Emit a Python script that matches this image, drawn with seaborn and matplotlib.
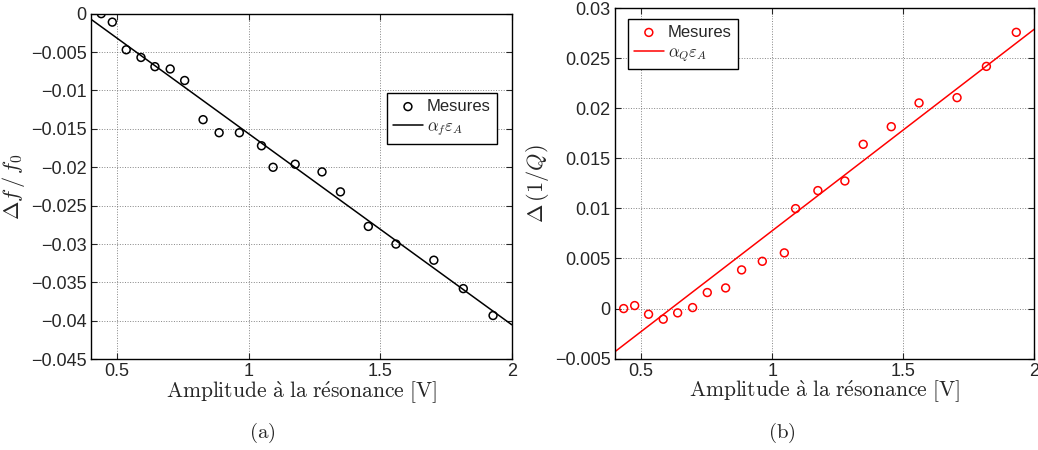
import matplotlib
matplotlib.use("Agg")
import matplotlib.pyplot as plt
from matplotlib.ticker import FuncFormatter, MultipleLocator
import pandas as pd
import seaborn as sns

amp_f = [0.44, 0.482, 0.535, 0.591, 0.644, 0.702, 0.757, 0.827, 0.888, 0.965,
         1.049, 1.093, 1.177, 1.279, 1.349, 1.455, 1.56, 1.704, 1.816, 1.929]
df_f0 = [0.0, -0.0011, -0.0047, -0.0057, -0.0069, -0.0072, -0.0087, -0.0138, -0.0155, -0.0155,
         -0.0172, -0.0200, -0.0196, -0.0206, -0.0232, -0.0277, -0.0300, -0.0321, -0.0358, -0.0393]
fit_f_x = [0.4, 2.0]
fit_f_y = [-0.0007, -0.0405]

amp_q = [0.433, 0.475, 0.528, 0.584, 0.639, 0.696, 0.752, 0.822, 0.883, 0.962,
         1.046, 1.089, 1.174, 1.277, 1.347, 1.454, 1.56, 1.705, 1.817, 1.931]
d_invq = [0.0, 0.0003, -0.00057, -0.00106, -0.00043, 0.0001, 0.0016, 0.00206, 0.00386, 0.00472,
          0.00556, 0.00998, 0.01178, 0.01274, 0.0164, 0.01816, 0.02053, 0.02106, 0.02418, 0.02758]
fit_q_x = [0.4, 2.0]
fit_q_y = [-0.0043, 0.0279]

sns.set_style("ticks")
plt.rcParams["font.family"] = ["Liberation Sans", "DejaVu Sans"]
plt.rcParams["mathtext.fontset"] = "cm"
plt.rcParams["xtick.direction"] = "in"
plt.rcParams["ytick.direction"] = "in"

fig = plt.figure(figsize=(10.38, 4.5), dpi=100)
ax1 = fig.add_axes([0.0874, 0.2016, 0.4056, 0.768])
ax2 = fig.add_axes([0.5925, 0.203, 0.404, 0.779])

fmt = FuncFormatter(lambda v, p: f"{round(v, 6) + 0.0:g}".replace("-", "\u2212"))
xlab = r"$\mathrm{Amplitude\ \grave{a}\ la\ r\acute{e}sonance\ [V]}$"


def draw(ax, xs, ys, fx, fy, color, fit_label, ylim, ylabel, legend_pos):
    sns.scatterplot(x=xs, y=ys, ax=ax, marker="o", s=32, facecolor="none",
                    edgecolor=color, linewidth=1.1, label="Mesures", zorder=3)
    sns.lineplot(x=fx, y=fy, ax=ax, color=color, linewidth=1.1, label=fit_label)
    ax.set_xlim(0.4, 2)
    ax.set_ylim(*ylim)
    ax.xaxis.set_major_locator(MultipleLocator(0.5))
    ax.yaxis.set_major_locator(MultipleLocator(0.005))
    ax.xaxis.set_major_formatter(fmt)
    ax.yaxis.set_major_formatter(fmt)
    ax.tick_params(labelsize=13, top=True, right=True, length=4, width=0.8, pad=3)
    ax.grid(True, linestyle=":", color="#666666", linewidth=0.7, alpha=0.8)
    for sp in ax.spines.values():
        sp.set_linewidth(1.0)
        sp.set_color("black")
    ax.set_xlabel(xlab, fontsize=15.5, labelpad=-1)
    ax.set_ylabel(ylabel, fontsize=16, labelpad=3)
    leg = ax.legend(loc="upper left", bbox_to_anchor=legend_pos, borderaxespad=0,
                    fontsize=12, fancybox=False, framealpha=1, edgecolor="black",
                    handlelength=1.8, handletextpad=0.25, borderpad=0.35, labelspacing=0.3)
    leg.get_frame().set_linewidth(1.0)


draw(ax1, amp_f, df_f0, fit_f_x, fit_f_y, "black", r"$\alpha_f\varepsilon_A$",
     (-0.045, 0), r"$\Delta f\,/\,f_0$", (0.704, 0.770))
draw(ax2, amp_q, d_invq, fit_q_x, fit_q_y, "red", r"$\alpha_Q\varepsilon_A$",
     (-0.005, 0.03), r"$\Delta\,(1/Q)$", (0.031, 0.969))

fig.text(262 / 1038, 1 - 433 / 450, r"$\mathrm{(a)}$", ha="center", va="center", fontsize=15)
fig.text(782 / 1038, 1 - 433 / 450, r"$\mathrm{(b)}$", ha="center", va="center", fontsize=15)

fig.savefig("out.png", dpi=100)
